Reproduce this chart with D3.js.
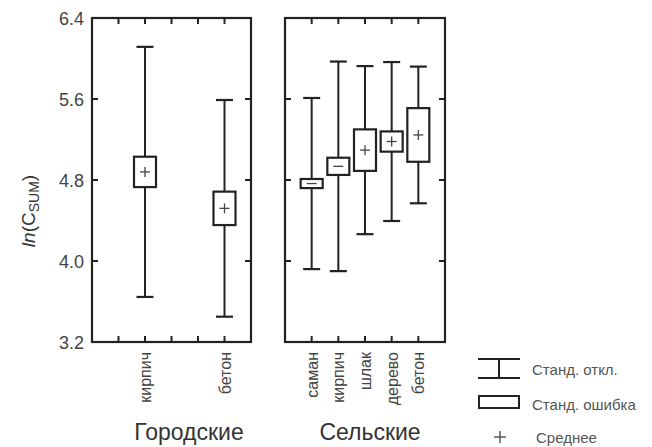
<!DOCTYPE html>
<html>
<head>
<meta charset="utf-8">
<style>
    body { margin: 0; background: #fff; }
    svg { display: block; }
    text { font-family: "Liberation Sans", Arial, sans-serif; }
</style>
</head>
<body>
<svg width="652" height="447"></svg>
<script src="https://cdn.jsdelivr.net/npm/d3@7/dist/d3.min.js"></script>
<script>
    // Городские
    const urbanCats = ['кирпич', 'бетон'];
    const urbanMean = [4.88, 4.52];
    const urbanSE = [0.15, 0.165];
    const urbanSD = [1.235, 1.07];

    // Сельские
    const ruralCats = ['саман', 'кирпич', 'шлак', 'дерево', 'бетон'];
    const ruralMean = [4.765, 4.935, 5.095, 5.18, 5.245];
    const ruralSE = [0.045, 0.085, 0.205, 0.10, 0.265];
    const ruralSD = [0.845, 1.035, 0.83, 0.785, 0.675];

    const yTicks = [3.2, 4.0, 4.8, 5.6, 6.4];
    const groupTitles = ['Городские', 'Сельские'];
    const legendLabels = ['Станд. откл.', 'Станд. ошибка', 'Среднее'];

    const svg = d3.select('svg');
    const ink = '#222';

    const y = d3.scaleLinear().domain([3.2, 6.4]).range([342, 18]);

    const panels = [
        {x0: 92, x1: 251, cats: urbanCats, mean: urbanMean, se: urbanSE, sd: urbanSD, slots: [2, 5], title: groupTitles[0], titleX: 189, labels: true},
        {x0: 285, x1: 445, cats: ruralCats, mean: ruralMean, se: ruralSE, sd: ruralSD, slots: [1, 2, 3, 4, 5], title: groupTitles[1], titleX: 370, labels: false}
    ];

    panels.forEach(p => {
        const x = d3.scaleLinear().domain([0, 6]).range([p.x0, p.x1]);
        const g = svg.append('g');

        // inner ticks
        const tk = 6;
        [1, 2, 3, 4, 5].forEach(s => {
            g.append('line').attr('x1', x(s)).attr('x2', x(s)).attr('y1', y(6.4)).attr('y2', y(6.4) + tk)
                .attr('stroke', ink).attr('stroke-width', 2);
            g.append('line').attr('x1', x(s)).attr('x2', x(s)).attr('y1', y(3.2)).attr('y2', y(3.2) - tk)
                .attr('stroke', ink).attr('stroke-width', 2);
        });
        yTicks.slice(1, 4).forEach(t => {
            g.append('line').attr('x1', p.x0).attr('x2', p.x0 + tk).attr('y1', y(t)).attr('y2', y(t))
                .attr('stroke', ink).attr('stroke-width', 2);
            g.append('line').attr('x1', p.x1).attr('x2', p.x1 - tk).attr('y1', y(t)).attr('y2', y(t))
                .attr('stroke', ink).attr('stroke-width', 2);
        });

        g.append('rect')
            .attr('x', p.x0).attr('y', y(6.4))
            .attr('width', p.x1 - p.x0).attr('height', y(3.2) - y(6.4))
            .attr('fill', 'none').attr('stroke', ink).attr('stroke-width', 2.2);

        p.cats.forEach((c, i) => {
            const cx = x(p.slots[i]);
            const m = p.mean[i], se = p.se[i], sd = p.sd[i];
            const capW = 8.5, boxW = 11;

            g.append('line').attr('x1', cx).attr('x2', cx).attr('y1', y(m + sd)).attr('y2', y(m - sd))
                .attr('stroke', ink).attr('stroke-width', 2);
            [m + sd, m - sd].forEach(v => {
                g.append('line').attr('x1', cx - capW).attr('x2', cx + capW).attr('y1', y(v)).attr('y2', y(v))
                    .attr('stroke', ink).attr('stroke-width', 2.2);
            });
            g.append('rect')
                .attr('x', cx - boxW).attr('y', y(m + se))
                .attr('width', boxW * 2).attr('height', y(m - se) - y(m + se))
                .attr('fill', '#fff').attr('stroke', ink).attr('stroke-width', 2.2);
            // mean marker
            g.append('line').attr('x1', cx - 5).attr('x2', cx + 5).attr('y1', y(m)).attr('y2', y(m))
                .attr('stroke', '#444').attr('stroke-width', 1.3);
            if (se > 0.09) {
                g.append('line').attr('x1', cx).attr('x2', cx).attr('y1', y(m) - 5).attr('y2', y(m) + 5)
                    .attr('stroke', '#444').attr('stroke-width', 1.3);
            }

            g.append('text')
                .attr('transform', `translate(${cx + 6},${y(3.2) + 10}) rotate(-90)`)
                .attr('text-anchor', 'end')
                .attr('font-size', 16)
                .attr('fill', '#444')
                .text(c);
        });

        g.append('text')
            .attr('x', p.titleX)
            .attr('y', 440)
            .attr('text-anchor', 'middle')
            .attr('font-size', 23)
            .attr('fill', '#333')
            .text(p.title);

        if (p.labels) {
            g.selectAll('.yl').data(yTicks).enter().append('text')
                .attr('x', 84).attr('y', d => y(d) + 6.5)
                .attr('text-anchor', 'end')
                .attr('font-size', 18)
                .attr('fill', '#444')
                .text(d => d.toFixed(1));
        }
    });

    // y axis title
    const yt = svg.append('text')
        .attr('transform', 'translate(35,211) rotate(-90)')
        .attr('text-anchor', 'middle')
        .attr('font-size', 19)
        .attr('fill', '#333');
    yt.append('tspan').attr('font-style', 'italic').text('ln');
    yt.append('tspan').text('(C');
    yt.append('tspan').attr('font-size', 14).attr('dy', 4).text('SUM');
    yt.append('tspan').attr('dy', -4).text(')');

    // legend
    const lg = svg.append('g');
    lg.append('line').attr('x1', 478).attr('x2', 520).attr('y1', 359).attr('y2', 359).attr('stroke', ink).attr('stroke-width', 2.2);
    lg.append('line').attr('x1', 478).attr('x2', 520).attr('y1', 378).attr('y2', 378).attr('stroke', ink).attr('stroke-width', 2.2);
    lg.append('line').attr('x1', 499).attr('x2', 499).attr('y1', 359).attr('y2', 378).attr('stroke', ink).attr('stroke-width', 2);
    lg.append('rect').attr('x', 479).attr('y', 396).attr('width', 40).attr('height', 12)
        .attr('fill', 'none').attr('stroke', ink).attr('stroke-width', 2);
    lg.append('line').attr('x1', 494).attr('x2', 506).attr('y1', 437).attr('y2', 437).attr('stroke', '#444').attr('stroke-width', 1.3);
    lg.append('line').attr('x1', 500).attr('x2', 500).attr('y1', 431).attr('y2', 443).attr('stroke', '#444').attr('stroke-width', 1.3);

    lg.selectAll('.lt').data(legendLabels).enter().append('text')
        .attr('x', (d, i) => i === 2 ? 536 : 532)
        .attr('y', (d, i) => [375, 410, 443][i])
        .attr('font-size', 15)
        .attr('fill', '#555')
        .text(d => d);
</script>
</body>
</html>
